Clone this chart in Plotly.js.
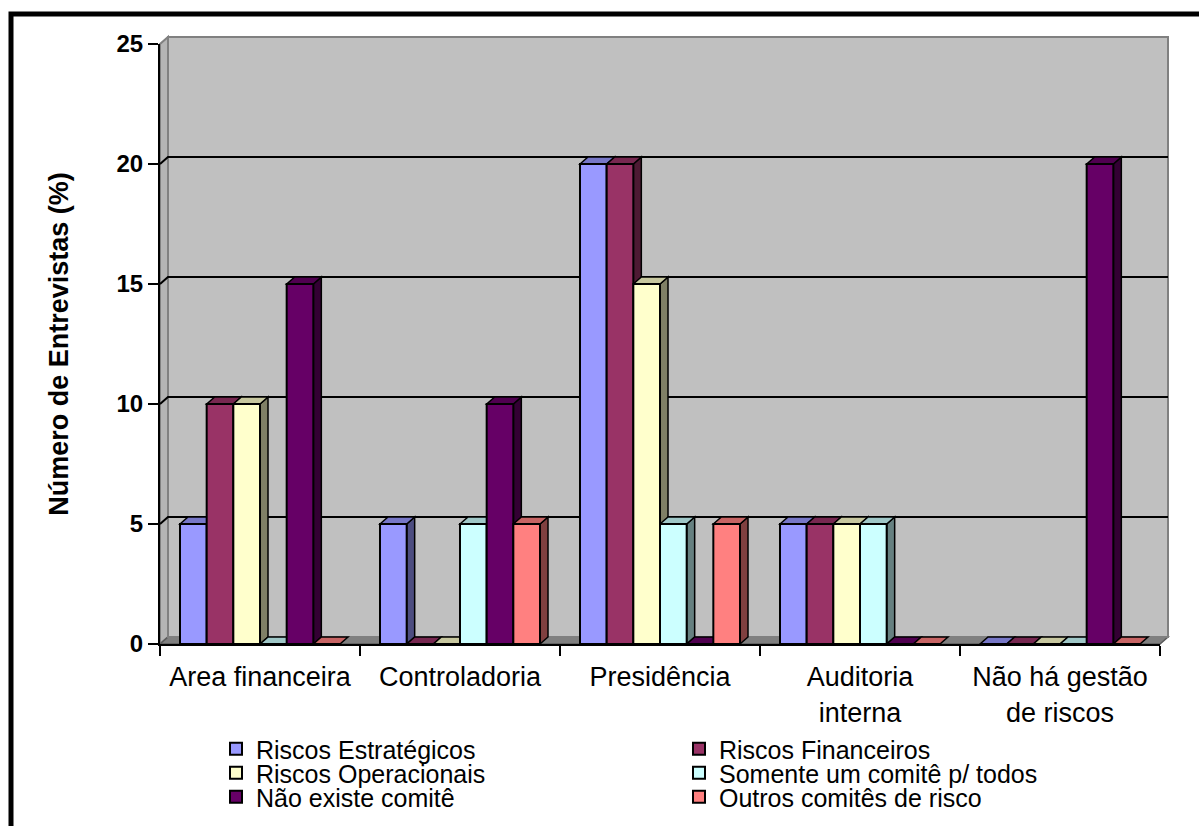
<!DOCTYPE html>
<html>
<head>
<meta charset="utf-8">
<script src="https://cdn.plot.ly/plotly-3.0.1.min.js"></script>
<style>html,body{margin:0;padding:0;background:#fff;}</style>
</head>
<body>
<div id="chart" style="width:1199px;height:826px;"></div>
<script>
// ---- data ----
const categories = ['Area financeira', 'Controladoria', 'Presidência', 'Auditoria<br>interna', 'Não há gestão<br>de riscos'];
const seriesNames = ['Riscos Estratégicos', 'Riscos Financeiros', 'Riscos Operacionais', 'Somente um comitê p/ todos', 'Não existe comitê', 'Outros comitês de risco'];
const riscosEstrategicos = [5, 5, 20, 5, 0];
const riscosFinanceiros  = [10, 0, 20, 5, 0];
const riscosOperacionais = [10, 0, 15, 5, 0];
const somenteUmComite    = [0, 5, 5, 5, 0];
const naoExisteComite    = [15, 10, 0, 0, 20];
const outrosComites      = [0, 5, 5, 0, 0];
const yTickValues = [0, 5, 10, 15, 20, 25];
const seriesValues = [riscosEstrategicos, riscosFinanceiros, riscosOperacionais, somenteUmComite, naoExisteComite, outrosComites];

// ---- style ----
const seriesColors = ['#9999FF', '#993366', '#FFFFCC', '#CCFFFF', '#660066', '#FF8080'];
const FONT = 'Arial, "Liberation Sans", sans-serif';
const W = 1199, H = 826;
const M = {l: 160, r: 39, t: 44, b: 182, autoexpand: false};
const plotW = W - M.l - M.r, plotH = H - M.t - M.b;
const yMax = 25;
const DX = 8, DY = 7;            // 3-D depth in px
const BARGAP = 0.2;
const nSeries = seriesValues.length, nCat = categories.length;
const pxPerCat = plotW / nCat, pxPerUnit = plotH / yMax;
const dxd = DX / pxPerCat, dyd = DY / pxPerUnit;       // depth in data units
const dxp = DX / plotW, dyp = DY / plotH;              // depth in paper units
const barW = (1 - BARGAP) / nSeries;

function shade(hex, f) {
  const n = parseInt(hex.slice(1), 16);
  const r = Math.round(((n >> 16) & 255) * f), g = Math.round(((n >> 8) & 255) * f), b = Math.round((n & 255) * f);
  return 'rgb(' + r + ',' + g + ',' + b + ')';
}

const shapes = [];
// outer frame
shapes.push({type: 'rect', xref: 'paper', yref: 'paper', layer: 'below',
  x0: (11 - M.l) / plotW, x1: (W + 10 - M.l) / plotW,
  y0: (M.t + plotH - 14) / plotH, y1: (M.t + plotH - H - 10) / plotH,
  line: {color: '#000', width: 5}, fillcolor: 'rgba(0,0,0,0)'});
// left side wall
shapes.push({type: 'path', xref: 'paper', yref: 'paper', layer: 'below',
  path: `M0,0 L${dxp},${dyp} L${dxp},${1 + dyp} L0,1 Z`,
  fillcolor: '#b4b4b4', line: {color: '#808080', width: 2}});
// floor
shapes.push({type: 'path', xref: 'paper', yref: 'paper', layer: 'below',
  path: `M0,0 L1,0 L${1 + dxp},${dyp} L${dxp},${dyp} Z`,
  fillcolor: '#808080', line: {color: '#5a5a5a', width: 1.5}});
// back wall
shapes.push({type: 'rect', xref: 'paper', yref: 'paper', layer: 'below',
  x0: dxp, x1: 1 + dxp, y0: dyp, y1: 1 + dyp,
  fillcolor: '#C0C0C0', line: {color: '#808080', width: 2}});
// gridlines on wall
yTickValues.filter(v => v > 0 && v < yMax).forEach(v => {
  const yp = v / yMax;
  shapes.push({type: 'path', xref: 'paper', yref: 'paper', layer: 'below',
    path: `M0,${yp} L${dxp},${yp + dyp} L${1 + dxp},${yp + dyp}`,
    line: {color: '#000', width: 2}});
});
// depth faces of bars
seriesValues.forEach((vals, j) => {
  vals.forEach((v, i) => {
    const L = i - (1 - BARGAP) / 2 + j * barW, R = L + barW;
    if (v > 0) {
      shapes.push({type: 'path', xref: 'x', yref: 'y', layer: 'below',
        path: `M${R},0 L${R + dxd},${dyd} L${R + dxd},${v + dyd} L${R},${v} Z`,
        fillcolor: shade(seriesColors[j], 0.5), line: {color: '#000', width: 1.5}});
    }
    shapes.push({type: 'path', xref: 'x', yref: 'y', layer: 'below',
      path: `M${L},${v} L${L + dxd},${v + dyd} L${R + dxd},${v + dyd} L${R},${v} Z`,
      fillcolor: shade(seriesColors[j], 0.78), line: {color: '#000', width: 1.5}});
  });
});

const legendIds = ['legend', 'legend', 'legend2', 'legend2', 'legend3', 'legend3'];
const traces = seriesValues.map((vals, j) => ({
  type: 'bar', name: seriesNames[j], x: categories, y: vals,
  legend: legendIds[j],
  marker: {color: seriesColors[j], line: {color: '#000', width: 2}},
  hoverinfo: 'x+y+name'
}));

function legendAt(pyCenter) {
  return {orientation: 'h', x: (216 - M.l) / plotW, xanchor: 'left',
    y: (M.t + plotH - pyCenter) / plotH, yanchor: 'middle',
    entrywidth: 418, entrywidthmode: 'pixels', bgcolor: 'rgba(0,0,0,0)',
    font: {family: FONT, size: 25, color: '#000'}, itemclick: false, itemdoubleclick: false};
}

const layout = {
  width: W, height: H,
  margin: M,
  paper_bgcolor: '#fff', plot_bgcolor: 'rgba(0,0,0,0)',
  barmode: 'group', bargap: BARGAP, bargroupgap: 0,
  showlegend: true,
  legend: legendAt(749), legend2: legendAt(773), legend3: legendAt(797),
  xaxis: {type: 'category', range: [-0.5, nCat - 0.5], tickson: 'boundaries',
    ticks: 'outside', ticklen: 10, tickwidth: 2, tickcolor: '#000', ticklabelstandoff: 8,
    showline: true, linecolor: '#000', linewidth: 2, showgrid: false, zeroline: false,
    tickfont: {family: FONT, size: 27, color: '#000'}, automargin: false, fixedrange: true},
  yaxis: {range: [0, yMax], tickvals: yTickValues, ticks: 'outside', ticklen: 10, tickwidth: 2, tickcolor: '#000',
    showline: true, linecolor: '#000', linewidth: 2, showgrid: false, zeroline: false,
    tickfont: {family: FONT, size: 24, color: '#000', weight: 'bold'},
    title: {text: 'Número de Entrevistas (%)', font: {family: FONT, size: 27, color: '#000', weight: 'bold'}, standoff: 40},
    automargin: false, fixedrange: true},
  shapes: shapes
};

Plotly.newPlot('chart', traces, layout, {displayModeBar: false, staticPlot: false});
</script>
</body>
</html>
